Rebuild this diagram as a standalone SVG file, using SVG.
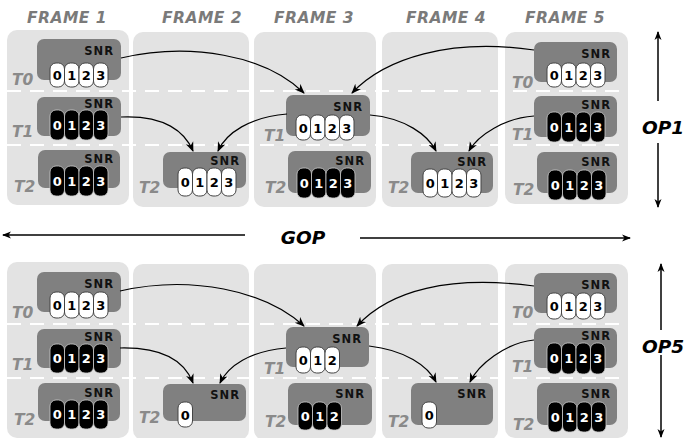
<svg xmlns="http://www.w3.org/2000/svg" width="686" height="438" viewBox="0 0 686 438">
<style>
.frame{fill:#e3e3e3}
.dash{stroke:#fff;stroke-width:2.2;stroke-dasharray:14 9}
.title{font-family:"DejaVu Sans",sans-serif;font-weight:bold;font-style:italic;font-size:15.5px;fill:#7a7a7a;text-anchor:middle;letter-spacing:0.5px}
.tl{font-family:"DejaVu Sans",sans-serif;font-weight:bold;font-style:italic;font-size:15.5px;fill:#8a8a8a}
.box{fill:#808080}
.snr{font-family:"DejaVu Sans",sans-serif;font-weight:bold;font-size:11.5px;fill:#111;text-anchor:end;letter-spacing:1px}
.pw{fill:#fff;stroke:#444;stroke-width:1}
.pb{fill:#000;stroke:#ccc;stroke-width:0.8}
.dw{font-family:"DejaVu Sans",sans-serif;font-weight:bold;font-size:13px;fill:#000;text-anchor:middle}
.db{font-family:"DejaVu Sans",sans-serif;font-weight:bold;font-size:13px;fill:#fff;text-anchor:middle}
.conn{fill:none;stroke:#000;stroke-width:1.2;marker-end:url(#ah)}
.axis{fill:none;stroke:#000;stroke-width:1.5;marker-end:url(#ah2)}
.big{font-family:"DejaVu Sans",sans-serif;font-weight:bold;font-style:italic;font-size:18.5px;fill:#000;text-anchor:middle}
</style>
<defs>
<marker id="ah" markerWidth="10" markerHeight="10" refX="9" refY="5" orient="auto" markerUnits="userSpaceOnUse">
<path d="M0,1 L10,5 L0,9 L3,5 z" fill="#000"/>
</marker>
<marker id="ah2" markerWidth="9" markerHeight="9" refX="8" refY="4.5" orient="auto" markerUnits="userSpaceOnUse">
<path d="M0,1 L9,4.5 L0,8 L2.5,4.5 z" fill="#000"/>
</marker>
</defs>

<g id="frames">
<rect class="frame" x="7" y="30" width="122" height="175" rx="10"/>
<rect class="frame" x="133" y="32" width="116" height="175" rx="10"/>
<rect class="frame" x="254" y="32" width="122" height="175" rx="10"/>
<rect class="frame" x="382" y="32" width="116" height="175" rx="10"/>
<rect class="frame" x="505" y="32" width="123" height="172" rx="10"/>
<rect class="frame" x="7" y="262" width="122" height="176" rx="10"/>
<rect class="frame" x="133" y="264" width="116" height="176" rx="10"/>
<rect class="frame" x="254" y="264" width="122" height="176" rx="10"/>
<rect class="frame" x="382" y="264" width="116" height="176" rx="10"/>
<rect class="frame" x="505" y="264" width="123" height="174" rx="10"/>
<line class="dash" x1="7" y1="91" x2="628" y2="91"/>
<line class="dash" x1="7" y1="145" x2="628" y2="145"/>
<line class="dash" x1="7" y1="324" x2="628" y2="324"/>
<line class="dash" x1="7" y1="378" x2="628" y2="378"/>
</g>

<g id="titles">
<text class="title" x="67" y="23">FRAME 1</text>
<text class="title" x="202" y="23">FRAME 2</text>
<text class="title" x="314" y="23">FRAME 3</text>
<text class="title" x="446" y="23">FRAME 4</text>
<text class="title" x="565" y="23">FRAME 5</text>
</g>

<g id="tlabels">
<text class="tl" x="12" y="85">T0</text>
<text class="tl" x="12" y="137">T1</text>
<text class="tl" x="14" y="192">T2</text>
<text class="tl" x="139" y="193">T2</text>
<text class="tl" x="264" y="141">T1</text>
<text class="tl" x="265" y="193">T2</text>
<text class="tl" x="388" y="193">T2</text>
<text class="tl" x="512" y="88">T0</text>
<text class="tl" x="512" y="140">T1</text>
<text class="tl" x="513" y="195">T2</text>
<text class="tl" x="12" y="318">T0</text>
<text class="tl" x="12" y="370">T1</text>
<text class="tl" x="14" y="425">T2</text>
<text class="tl" x="139" y="423">T2</text>
<text class="tl" x="264" y="374">T1</text>
<text class="tl" x="265" y="427">T2</text>
<text class="tl" x="388" y="427">T2</text>
<text class="tl" x="512" y="318">T0</text>
<text class="tl" x="512" y="372">T1</text>
<text class="tl" x="513" y="430">T2</text>
</g>

<!-- OP1 top half nodes -->
<g id="op1-f1-t0">
<rect class="box" x="37" y="39" width="84" height="41" rx="7"/>
<text class="snr" x="114" y="55">SNR</text>
<rect class="pw" x="50" y="63" width="14.5" height="24" rx="6"/><rect class="pw" x="64.5" y="63" width="14.5" height="24" rx="6"/><rect class="pw" x="79" y="63" width="14.5" height="24" rx="6"/><rect class="pw" x="93.5" y="63" width="14.5" height="24" rx="6"/>
<text class="dw" x="57.25" y="80">0</text><text class="dw" x="71.75" y="80">1</text><text class="dw" x="86.25" y="80">2</text><text class="dw" x="100.75" y="80">3</text>
</g>
<g id="op1-f1-t1">
<rect class="box" x="37" y="97" width="84" height="39" rx="7"/>
<text class="snr" x="114" y="108">SNR</text>
<rect class="pb" x="50" y="110" width="14.5" height="30" rx="6"/><rect class="pb" x="64.5" y="110" width="14.5" height="30" rx="6"/><rect class="pb" x="79" y="110" width="14.5" height="30" rx="6"/><rect class="pb" x="93.5" y="110" width="14.5" height="30" rx="6"/>
<text class="db" x="57.25" y="129.5">0</text><text class="db" x="71.75" y="129.5">1</text><text class="db" x="86.25" y="129.5">2</text><text class="db" x="100.75" y="129.5">3</text>
</g>
<g id="op1-f1-t2">
<rect class="box" x="38" y="150" width="82" height="38" rx="7"/>
<text class="snr" x="114" y="163">SNR</text>
<rect class="pb" x="50" y="166" width="14.5" height="30" rx="6"/><rect class="pb" x="64.5" y="166" width="14.5" height="30" rx="6"/><rect class="pb" x="79" y="166" width="14.5" height="30" rx="6"/><rect class="pb" x="93.5" y="166" width="14.5" height="30" rx="6"/>
<text class="db" x="57.25" y="185.5">0</text><text class="db" x="71.75" y="185.5">1</text><text class="db" x="86.25" y="185.5">2</text><text class="db" x="100.75" y="185.5">3</text>
</g>
<g id="op1-f2-t2">
<rect class="box" x="163" y="152" width="83" height="36" rx="7"/>
<text class="snr" x="240" y="165">SNR</text>
<rect class="pw" x="178" y="168" width="14.5" height="28" rx="6"/><rect class="pw" x="192.5" y="168" width="14.5" height="28" rx="6"/><rect class="pw" x="207" y="168" width="14.5" height="28" rx="6"/><rect class="pw" x="221.5" y="168" width="14.5" height="28" rx="6"/>
<text class="dw" x="185.25" y="186.5">0</text><text class="dw" x="199.75" y="186.5">1</text><text class="dw" x="214.25" y="186.5">2</text><text class="dw" x="228.75" y="186.5">3</text>
</g>
<g id="op1-f3-t1">
<rect class="box" x="286" y="95" width="84" height="41" rx="7"/>
<text class="snr" x="363" y="111">SNR</text>
<rect class="pw" x="296" y="115" width="14.5" height="25" rx="6"/><rect class="pw" x="310.5" y="115" width="14.5" height="25" rx="6"/><rect class="pw" x="325" y="115" width="14.5" height="25" rx="6"/><rect class="pw" x="339.5" y="115" width="14.5" height="25" rx="6"/>
<text class="dw" x="303.25" y="132.5">0</text><text class="dw" x="317.75" y="132.5">1</text><text class="dw" x="332.25" y="132.5">2</text><text class="dw" x="346.75" y="132.5">3</text>
</g>
<g id="op1-f3-t2">
<rect class="box" x="288" y="151" width="83" height="42" rx="7"/>
<text class="snr" x="365" y="165">SNR</text>
<rect class="pb" x="297" y="168" width="14.5" height="30" rx="6"/><rect class="pb" x="311.5" y="168" width="14.5" height="30" rx="6"/><rect class="pb" x="326" y="168" width="14.5" height="30" rx="6"/><rect class="pb" x="340.5" y="168" width="14.5" height="30" rx="6"/>
<text class="db" x="304.25" y="187.5">0</text><text class="db" x="318.75" y="187.5">1</text><text class="db" x="333.25" y="187.5">2</text><text class="db" x="347.75" y="187.5">3</text>
</g>
<g id="op1-f4-t2">
<rect class="box" x="411" y="152" width="82" height="41" rx="7"/>
<text class="snr" x="487" y="166">SNR</text>
<rect class="pw" x="423" y="169" width="14.5" height="28" rx="6"/><rect class="pw" x="437.5" y="169" width="14.5" height="28" rx="6"/><rect class="pw" x="452" y="169" width="14.5" height="28" rx="6"/><rect class="pw" x="466.5" y="169" width="14.5" height="28" rx="6"/>
<text class="dw" x="430.25" y="187.5">0</text><text class="dw" x="444.75" y="187.5">1</text><text class="dw" x="459.25" y="187.5">2</text><text class="dw" x="473.75" y="187.5">3</text>
</g>
<g id="op1-f5-t0">
<rect class="box" x="534" y="42" width="83" height="40" rx="7"/>
<text class="snr" x="611" y="58">SNR</text>
<rect class="pw" x="547" y="63" width="14.5" height="24" rx="6"/><rect class="pw" x="561.5" y="63" width="14.5" height="24" rx="6"/><rect class="pw" x="576" y="63" width="14.5" height="24" rx="6"/><rect class="pw" x="590.5" y="63" width="14.5" height="24" rx="6"/>
<text class="dw" x="554.25" y="80">0</text><text class="dw" x="568.75" y="80">1</text><text class="dw" x="583.25" y="80">2</text><text class="dw" x="597.75" y="80">3</text>
</g>
<g id="op1-f5-t1">
<rect class="box" x="534" y="96" width="83" height="41" rx="7"/>
<text class="snr" x="611" y="109">SNR</text>
<rect class="pb" x="547" y="112" width="14.5" height="30" rx="6"/><rect class="pb" x="561.5" y="112" width="14.5" height="30" rx="6"/><rect class="pb" x="576" y="112" width="14.5" height="30" rx="6"/><rect class="pb" x="590.5" y="112" width="14.5" height="30" rx="6"/>
<text class="db" x="554.25" y="131.5">0</text><text class="db" x="568.75" y="131.5">1</text><text class="db" x="583.25" y="131.5">2</text><text class="db" x="597.75" y="131.5">3</text>
</g>
<g id="op1-f5-t2">
<rect class="box" x="537" y="152" width="80" height="41" rx="7"/>
<text class="snr" x="611" y="166">SNR</text>
<rect class="pb" x="548" y="170" width="14.5" height="30" rx="6"/><rect class="pb" x="562.5" y="170" width="14.5" height="30" rx="6"/><rect class="pb" x="577" y="170" width="14.5" height="30" rx="6"/><rect class="pb" x="591.5" y="170" width="14.5" height="30" rx="6"/>
<text class="db" x="555.25" y="189.5">0</text><text class="db" x="569.75" y="189.5">1</text><text class="db" x="584.25" y="189.5">2</text><text class="db" x="598.75" y="189.5">3</text>
</g>

<!-- OP5 bottom half nodes -->
<g id="op5-f1-t0">
<rect class="box" x="37" y="272" width="84" height="40" rx="7"/>
<text class="snr" x="114" y="288">SNR</text>
<rect class="pw" x="50" y="292" width="14.5" height="26" rx="6"/><rect class="pw" x="64.5" y="292" width="14.5" height="26" rx="6"/><rect class="pw" x="79" y="292" width="14.5" height="26" rx="6"/><rect class="pw" x="93.5" y="292" width="14.5" height="26" rx="6"/>
<text class="dw" x="57.25" y="310">0</text><text class="dw" x="71.75" y="310">1</text><text class="dw" x="86.25" y="310">2</text><text class="dw" x="100.75" y="310">3</text>
</g>
<g id="op5-f1-t1">
<rect class="box" x="37" y="329" width="84" height="39" rx="7"/>
<text class="snr" x="114" y="341">SNR</text>
<rect class="pb" x="50" y="344" width="14.5" height="29" rx="6"/><rect class="pb" x="64.5" y="344" width="14.5" height="29" rx="6"/><rect class="pb" x="79" y="344" width="14.5" height="29" rx="6"/><rect class="pb" x="93.5" y="344" width="14.5" height="29" rx="6"/>
<text class="db" x="57.25" y="363">0</text><text class="db" x="71.75" y="363">1</text><text class="db" x="86.25" y="363">2</text><text class="db" x="100.75" y="363">3</text>
</g>
<g id="op5-f1-t2">
<rect class="box" x="38" y="383" width="82" height="38" rx="7"/>
<text class="snr" x="114" y="397">SNR</text>
<rect class="pb" x="50" y="400" width="14.5" height="29" rx="6"/><rect class="pb" x="64.5" y="400" width="14.5" height="29" rx="6"/><rect class="pb" x="79" y="400" width="14.5" height="29" rx="6"/><rect class="pb" x="93.5" y="400" width="14.5" height="29" rx="6"/>
<text class="db" x="57.25" y="419">0</text><text class="db" x="71.75" y="419">1</text><text class="db" x="86.25" y="419">2</text><text class="db" x="100.75" y="419">3</text>
</g>
<g id="op5-f2-t2">
<rect class="box" x="163" y="384" width="83" height="37" rx="7"/>
<text class="snr" x="240" y="399">SNR</text>
<rect class="pw" x="178" y="402" width="14.5" height="25" rx="6"/>
<text class="dw" x="185.25" y="419.5">0</text>
</g>
<g id="op5-f3-t1">
<rect class="box" x="286" y="327" width="83" height="40" rx="7"/>
<text class="snr" x="362" y="343">SNR</text>
<rect class="pw" x="296" y="347" width="14.5" height="26" rx="6"/><rect class="pw" x="310.5" y="347" width="14.5" height="26" rx="6"/><rect class="pw" x="325" y="347" width="14.5" height="26" rx="6"/>
<text class="dw" x="303.25" y="365">0</text><text class="dw" x="317.75" y="365">1</text><text class="dw" x="332.25" y="365">2</text>
</g>
<g id="op5-f3-t2">
<rect class="box" x="288" y="383" width="84" height="42" rx="7"/>
<text class="snr" x="365" y="398">SNR</text>
<rect class="pb" x="298" y="402" width="14.5" height="28" rx="6"/><rect class="pb" x="312.5" y="402" width="14.5" height="28" rx="6"/><rect class="pb" x="327" y="402" width="14.5" height="28" rx="6"/>
<text class="db" x="305.25" y="420.5">0</text><text class="db" x="319.75" y="420.5">1</text><text class="db" x="334.25" y="420.5">2</text>
</g>
<g id="op5-f4-t2">
<rect class="box" x="411" y="383" width="82" height="42" rx="7"/>
<text class="snr" x="487" y="398">SNR</text>
<rect class="pw" x="422" y="402" width="14.5" height="26" rx="6"/>
<text class="dw" x="429.25" y="420">0</text>
</g>
<g id="op5-f5-t0">
<rect class="box" x="534" y="273" width="83" height="40" rx="7"/>
<text class="snr" x="611" y="289">SNR</text>
<rect class="pw" x="547" y="293" width="14.5" height="26" rx="6"/><rect class="pw" x="561.5" y="293" width="14.5" height="26" rx="6"/><rect class="pw" x="576" y="293" width="14.5" height="26" rx="6"/><rect class="pw" x="590.5" y="293" width="14.5" height="26" rx="6"/>
<text class="dw" x="554.25" y="311">0</text><text class="dw" x="568.75" y="311">1</text><text class="dw" x="583.25" y="311">2</text><text class="dw" x="597.75" y="311">3</text>
</g>
<g id="op5-f5-t1">
<rect class="box" x="534" y="328" width="83" height="40" rx="7"/>
<text class="snr" x="611" y="340">SNR</text>
<rect class="pb" x="547" y="343" width="14.5" height="31" rx="6"/><rect class="pb" x="561.5" y="343" width="14.5" height="31" rx="6"/><rect class="pb" x="576" y="343" width="14.5" height="31" rx="6"/><rect class="pb" x="590.5" y="343" width="14.5" height="31" rx="6"/>
<text class="db" x="554.25" y="363">0</text><text class="db" x="568.75" y="363">1</text><text class="db" x="583.25" y="363">2</text><text class="db" x="597.75" y="363">3</text>
</g>
<g id="op5-f5-t2">
<rect class="box" x="537" y="383" width="80" height="42" rx="7"/>
<text class="snr" x="611" y="398">SNR</text>
<rect class="pb" x="548" y="402" width="14.5" height="30" rx="6"/><rect class="pb" x="562.5" y="402" width="14.5" height="30" rx="6"/><rect class="pb" x="577" y="402" width="14.5" height="30" rx="6"/><rect class="pb" x="591.5" y="402" width="14.5" height="30" rx="6"/>
<text class="db" x="555.25" y="421.5">0</text><text class="db" x="569.75" y="421.5">1</text><text class="db" x="584.25" y="421.5">2</text><text class="db" x="598.75" y="421.5">3</text>
</g>

<g id="connectors">
<path class="conn" d="M121,58 C190,42 265,55 304,93"/>
<path class="conn" d="M534,50 C450,38 385,58 352,93"/>
<path class="conn" d="M121,117 C165,115 185,132 193,151"/>
<path class="conn" d="M287,114 C250,117 226,133 218,151"/>
<path class="conn" d="M370,115 C405,118 428,135 436,151"/>
<path class="conn" d="M534,116 C505,118 478,135 469,151"/>
<path class="conn" d="M120,291 C190,275 265,290 304,326"/>
<path class="conn" d="M534,286 C450,275 390,290 357,326"/>
<path class="conn" d="M120,348 C165,347 185,362 193,383"/>
<path class="conn" d="M286,348 C250,351 228,366 220,383"/>
<path class="conn" d="M369,346 C405,350 428,366 436,382"/>
<path class="conn" d="M534,340 C505,343 478,365 470,382"/>
<path class="axis" d="M245,235 L3,235"/>
<path class="axis" d="M360,238 L630,238"/>
<path class="axis" d="M658,101 L658,32"/>
<path class="axis" d="M658,143 L658,207"/>
<path class="axis" d="M661,330 L661,264"/>
<path class="axis" d="M661,355 L661,437"/>
</g>

<g id="axis-labels">
<text class="big" x="303" y="244">GOP</text>
<text class="big" x="663" y="134">OP1</text>
<text class="big" x="663" y="353">OP5</text>
</g>
</svg>
